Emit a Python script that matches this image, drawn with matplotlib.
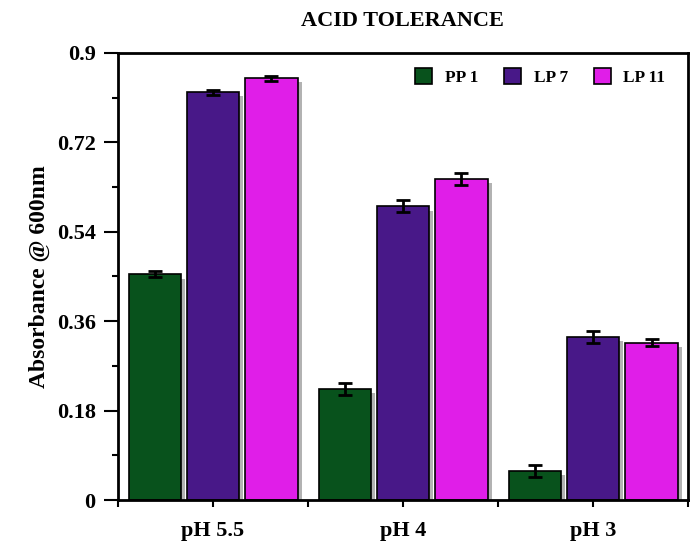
import numpy as np
import matplotlib.pyplot as plt
import matplotlib.patheffects as pe
from matplotlib.patches import Patch

groups = ['pH 5.5', 'pH 4', 'pH 3']
strains = ['PP 1', 'LP 7', 'LP 11']
pp1 = [0.454, 0.224, 0.059]
lp7 = [0.821, 0.591, 0.329]
lp11 = [0.849, 0.646, 0.317]
pp1_err = [0.006, 0.012, 0.012]
lp7_err = [0.005, 0.012, 0.012]
lp11_err = [0.005, 0.012, 0.007]
colors = ['#08521C', '#481888', '#E01EE8']

plt.rcParams['font.family'] = ['Liberation Serif', 'DejaVu Serif']
plt.rcParams['font.weight'] = 'bold'

fig = plt.figure(figsize=(6.98, 5.46), dpi=100)
ax = fig.add_axes([0.169, 0.0842, 0.817, 0.819])

x = np.arange(len(groups))
w = 0.275
step = 0.307
shadow = [pe.SimplePatchShadow(offset=(3, -3), shadow_rgbFace='k', alpha=0.3), pe.Normal()]
for i, (vals, errs) in enumerate([(pp1, pp1_err), (lp7, lp7_err), (lp11, lp11_err)]):
    bars = ax.bar(x + (i - 1) * step, vals, w, color=colors[i], edgecolor='black',
                  linewidth=1.2, label=strains[i], zorder=2)
    for b in bars:
        b.set_path_effects(shadow)
    ax.errorbar(x + (i - 1) * step, vals, yerr=errs, fmt='none', ecolor='black',
                elinewidth=2, capsize=5, capthick=2, zorder=3)

ax.set_xlim(-0.5, 2.5)
ax.set_ylim(0, 0.9)
ax.set_yticks([0, 0.18, 0.36, 0.54, 0.72, 0.9])
ax.set_yticklabels(['0', '0.18', '0.36', '0.54', '0.72', '0.9'])
ax.set_yticks(np.arange(0.09, 0.9, 0.18), minor=True)
ax.set_xticks([-0.5, 0.5, 1.5, 2.5])
ax.set_xticklabels([])
ax.set_xticks(x, minor=True)
ax.set_xticklabels(groups, minor=True)

ax.tick_params(axis='y', which='major', direction='out', length=10, width=1.5, labelsize=16, pad=6)
ax.tick_params(axis='y', which='minor', direction='out', length=4, width=1.5)
ax.tick_params(axis='x', which='both', direction='out', length=5, width=1.5, labelsize=16, pad=10)
for s in ax.spines.values():
    s.set_linewidth(2)

ax.set_ylabel('Absorbance @ 600nm', fontsize=17, fontweight='bold', labelpad=5)
fig.text(0.576, 0.962, 'ACID TOLERANCE', ha='center', va='center', fontsize=16, fontweight='bold')

handles = [Patch(facecolor=c, edgecolor='black', linewidth=1.2) for c in colors]
ax.legend(handles, strains, loc='upper right', ncol=3, frameon=False, fontsize=12.5,
          handlelength=1.0, handleheight=1.0, columnspacing=1.5, handletextpad=0.7,
          bbox_to_anchor=(0.987, 1.0))

fig.savefig('out.png', dpi=100)
